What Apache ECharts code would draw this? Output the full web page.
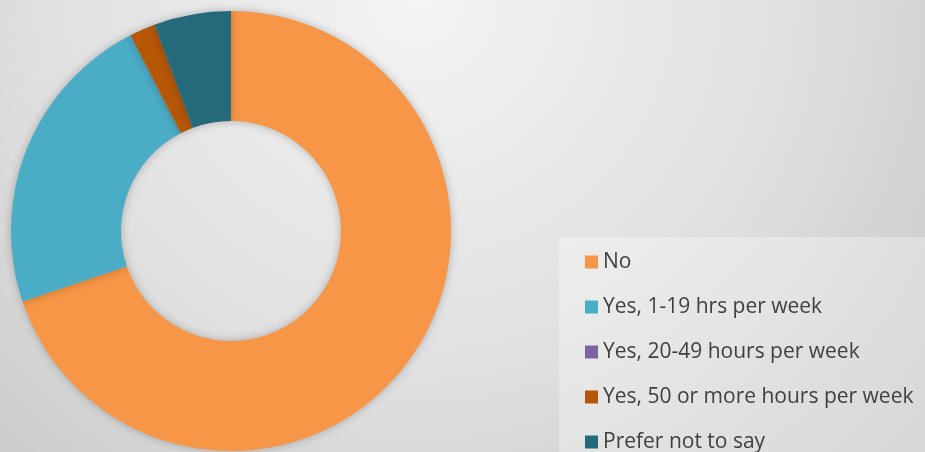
<!DOCTYPE html>
<html>
<head>
<meta charset="utf-8">
<script src="https://cdn.jsdelivr.net/npm/echarts@6/dist/echarts.min.js"></script>
<style>
  html, body { margin: 0; padding: 0; }
  #main { width: 925px; height: 452px; }
</style>
</head>
<body>
<div id="main"></div>
<script>
var chartDom = document.getElementById('main');
var myChart = echarts.init(chartDom);

// answers and their counts
var categories = ['No', 'Yes, 1-19 hrs per week', 'Yes, 20-49 hours per week', 'Yes, 50 or more hours per week', 'Prefer not to say'];
var counts = [37, 12, 0, 1, 3];
var colors = ['#F79646', '#4BACC6', '#8064A2', '#B65708', '#256A7B'];

var pieData = categories.map(function (name, i) {
    return { name: name, value: counts[i], itemStyle: { color: colors[i] } };
});

var option = {
    backgroundColor: {
        type: 'radial',
        x: 0.45, y: 0, r: 1.5,
        colorStops: [
            { offset: 0, color: '#F4F4F4' },
            { offset: 0.55, color: '#E0E0E0' },
            { offset: 1, color: '#C6C6C6' }
        ]
    },
    graphic: [
        {
            type: 'rect',
            shape: { x: 559, y: 237, width: 366, height: 215 },
            style: { fill: 'rgba(255,255,255,0.3)' },
            z: 0
        }
    ],
    legend: {
        orient: 'vertical',
        left: 580,
        top: 245,
        height: 400,
        itemWidth: 13,
        itemHeight: 13,
        itemGap: 21,
        icon: 'rect',
        data: categories,
        textStyle: {
            fontFamily: 'Open Sans',
            fontSize: 21,
            color: '#404040',
            lineHeight: 24
        }
    },
    series: [
        {
            name: 'hours',
            type: 'pie',
            center: [231, 231],
            radius: [110, 220],
            startAngle: 90,
            clockwise: true,
            avoidLabelOverlap: false,
            label: { show: false },
            labelLine: { show: false },
            emphasis: { disabled: true },
            itemStyle: {
                shadowBlur: 8,
                shadowColor: 'rgba(0,0,0,0.25)'
            },
            data: pieData
        }
    ]
};

myChart.setOption(option);
</script>
</body>
</html>
